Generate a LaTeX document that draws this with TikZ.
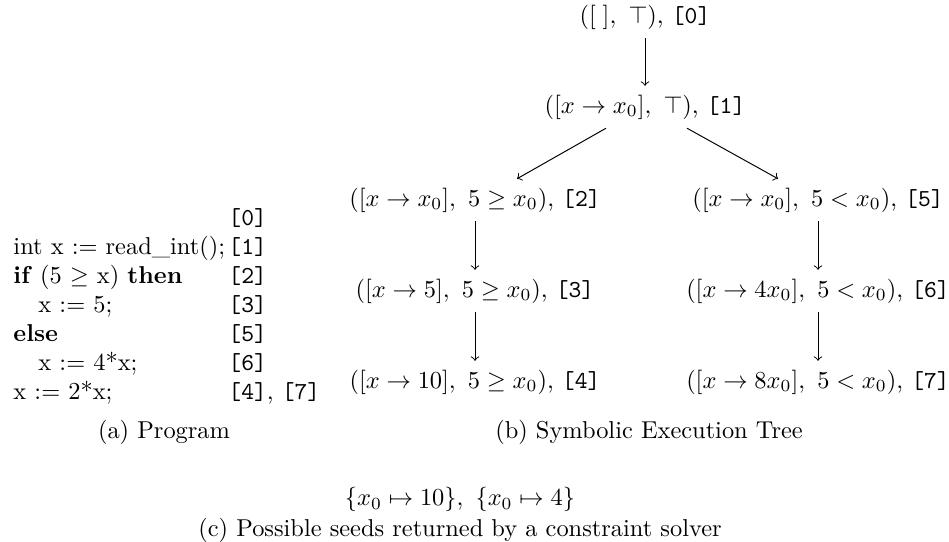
\documentclass[tikz,border=0pt]{standalone}
\usetikzlibrary{calc}
\begin{document}
\begin{tikzpicture}[x=0.4098pt,y=-0.4098pt,
  tn/.style={inner sep=3.5pt, text height=7.5pt, text depth=2.5pt},
  codeln/.style={anchor=base west, inner sep=0pt},
  lblln/.style={anchor=base west, inner sep=0pt},
  captxt/.style={anchor=base, inner sep=0pt},
  conn/.style={->}]
\useasboundingbox (0,0) rectangle (949,542);

% program
\node[lblln] (l0) at (228,226) {\texttt{[0]}};
\node[codeln] (p1) at (13,255) {int x := read\_int();};
\node[lblln] (l1) at (228,255) {\texttt{[1]}};
\node[codeln] (p2) at (13,284) {\textbf{if} (5 $\geq$ x) \textbf{then}};
\node[lblln] (l2) at (228,284) {\texttt{[2]}};
\node[codeln] (p3) at (38,313) {x := 5;};
\node[lblln] (l3) at (228,313) {\texttt{[3]}};
\node[codeln] (p4) at (13,342) {\textbf{else}};
\node[lblln] (l4) at (228,342) {\texttt{[5]}};
\node[codeln] (p5) at (38,371) {x := 4*x;};
\node[lblln] (l5) at (228,371) {\texttt{[6]}};
\node[codeln] (p6) at (13,400) {x := 2*x;};
\node[lblln] (l6) at (228,400) {\texttt{[4]}, \texttt{[7]}};
\node[captxt] (capa) at (164,439) {(a) Program};

% tree
\node[tn] (n0) at (645,17) {$([\;],\ \top)$, \texttt{[0]}};
\node[tn] (n1) at (645,107) {$([x \to x_0],\ \top)$, \texttt{[1]}};
\node[tn] (n2) at (475,200) {$([x \to x_0],\ 5 \geq x_0)$, \texttt{[2]}};
\node[tn] (n3) at (475,291) {$([x \to 5],\ 5 \geq x_0)$, \texttt{[3]}};
\node[tn] (n4) at (475,382) {$([x \to 10],\ 5 \geq x_0)$, \texttt{[4]}};
\node[tn] (n5) at (818,200) {$([x \to x_0],\ 5 < x_0)$, \texttt{[5]}};
\node[tn] (n6) at (818,291) {$([x \to 4x_0],\ 5 < x_0)$, \texttt{[6]}};
\node[tn] (n7) at (818,382) {$([x \to 8x_0],\ 5 < x_0)$, \texttt{[7]}};
\node[captxt] (capb) at (649,439) {(b) Symbolic Execution Tree};

\draw[conn] (n0.south) -- (n1.north);
\draw[conn] ($(n1.south)+(-39,0)$) -- ($(n2.north)+(42,0)$);
\draw[conn] ($(n1.south)+(42,0)$) -- ($(n5.north)+(-40,0)$);
\draw[conn] (n2.south) -- (n3.north);
\draw[conn] (n3.south) -- (n4.north);
\draw[conn] (n5.south) -- (n6.north);
\draw[conn] (n6.south) -- (n7.north);

% seeds
\node[captxt] (seeds) at (460,506) {$\{x_0 \mapsto 10\},\ \{x_0 \mapsto 4\}$};
\node[captxt] (capc) at (460,537) {(c) Possible seeds returned by a constraint solver};
\end{tikzpicture}
\end{document}
